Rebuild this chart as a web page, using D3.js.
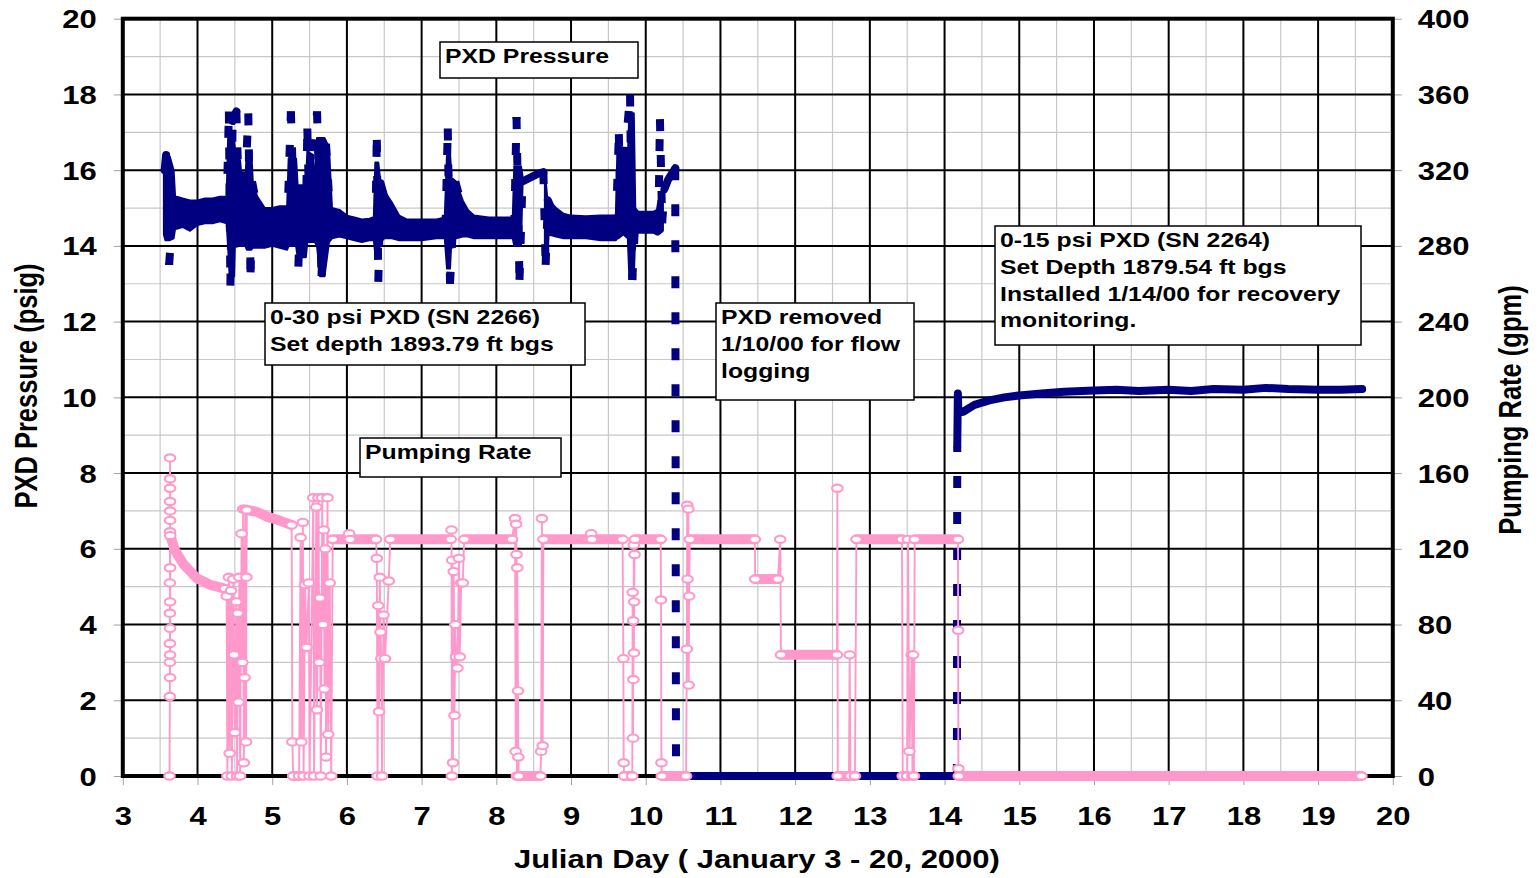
<!DOCTYPE html>
<html>
<head>
<meta charset="utf-8">
<script src="https://cdn.jsdelivr.net/npm/d3@7"></script>
<style>
  html, body { margin: 0; padding: 0; background: #ffffff; }
  svg { display: block; }
</style>
</head>
<body>
<svg id="chart" width="1539" height="878"></svg>
<script>
// ---------------- data ----------------
const dayTicks = d3.range(3, 21);          // Julian day 3 .. 20
const psiTicks = d3.range(0, 21, 2);       // left axis, psig
const gpmTicks = d3.range(0, 401, 40);     // right axis, gpm

// PXD pressure readings (Julian day, psig)
const pressureDay = [3.56,3.58,3.62,3.67,3.8,3.9,4.0,4.1,4.2,4.3,4.39,4.42,4.44,4.47,4.52,4.56,4.62,4.68,4.71,4.73,
  4.8,4.9,5.0,5.1,5.2,5.25,5.3,5.35,5.38,5.45,5.47,5.5,5.6,5.66,5.72,5.78,5.9,6.0,6.1,6.2,
  6.3,6.38,6.4,6.42,6.45,6.5,6.6,6.7,6.8,7.0,7.2,7.32,7.35,7.38,7.45,7.55,7.65,7.8,8.0,8.2,
  8.24,8.27,8.31,8.35,8.45,8.55,8.63,8.66,8.69,8.8,8.9,9.0,9.2,9.4,9.6,9.64,9.66,9.72,9.79,9.82,
  9.86,9.95,10.1,10.17,10.19,10.22,10.25,10.3,10.38,10.395,10.405,14.165,14.17,14.172,14.174,14.176,14.178,14.185,14.25,14.4,
  14.6,14.8,15.0,15.3,15.6,16.0,16.3,16.6,17.0,17.3,17.6,18.0,18.3,18.6,19.0,19.3,19.59];
const pressurePsig = [16.0,16.4,13.5,14.9,14.85,14.8,14.85,14.9,14.92,14.95,14.95,17.55,12.95,17.3,17.55,14.8,14.7,17.5,13.3,15.7,
  15.0,14.5,14.5,14.5,14.45,17.55,14.3,13.45,15.3,14.6,17.1,14.6,17.55,13.2,16.7,14.6,14.6,14.5,14.45,14.4,
  14.45,14.45,16.8,13.05,15.65,15.3,14.9,14.5,14.45,14.45,14.45,14.5,17.1,13.0,15.7,15.0,14.6,14.5,14.5,14.5,
  14.5,17.4,13.1,15.7,15.8,15.9,15.95,13.5,15.2,14.7,14.55,14.5,14.5,14.48,14.5,16.95,15.0,16.3,18.0,13.1,
  14.7,14.65,14.6,14.6,17.35,14.6,15.5,15.75,16.0,16.05,0,0,8.7,9.05,9.4,9.75,10.1,9.6,9.62,9.8,
  9.92,10.0,10.05,10.1,10.15,10.18,10.2,10.17,10.2,10.17,10.22,10.2,10.25,10.22,10.2,10.2,10.22];

// Spread of the logged pressure around its trend (psig); null = no spread recorded
const spreadDay  = [3.55,3.57,3.63,3.68,3.70,3.72,3.8,3.9,4.0,4.1,4.2,4.3,4.39,4.41,4.43,4.49,4.5,4.57,4.6,4.64,
  4.66,4.72,4.74,4.8,4.9,5.0,5.1,5.2,5.22,5.32,5.34,5.45,5.47,5.55,5.57,5.6,5.64,5.7,5.76,5.8,
  5.9,6.0,6.1,6.2,6.3,6.36,6.38,6.42,6.45,6.5,6.6,6.7,6.8,7.0,7.2,7.31,7.34,7.38,7.4,7.46,
  7.55,7.62,7.7,7.9,8.1,8.22,8.24,8.33,8.35,8.5,8.65,8.68,8.7,8.8,8.9,9.0,9.2,9.4,9.6,9.62,
  9.63,9.7,9.76,9.78,9.84,9.86,9.9,10.0,10.1,10.15,10.17,10.2,10.23];
const spreadLow  = [14.3,14.15,14.15,14.2,14.45,14.45,14.5,14.4,14.55,14.6,14.6,14.65,14.6,13.97,13.2,13.2,13.97,14.0,14.0,14.0,
  13.9,13.9,13.95,13.95,13.95,14.0,13.95,13.9,14.0,14.0,13.7,13.7,14.1,14.1,14.1,14.0,13.2,13.2,14.1,14.2,
  14.25,14.2,14.15,14.1,14.15,14.15,13.8,13.8,14.1,14.2,14.2,14.15,14.15,14.15,14.2,14.2,13.4,13.4,14.2,14.2,
  14.25,14.25,14.2,14.2,14.2,14.2,14.0,14.0,15.55,null,13.55,13.55,14.3,14.25,14.2,14.2,14.2,14.15,14.15,14.2,
  14.2,14.3,14.2,13.2,13.2,14.3,14.35,14.35,14.35,14.3,14.3,14.35,14.4];
const spreadHigh = [16.0,16.4,16.35,16.0,15.3,15.3,15.25,15.2,15.2,15.25,15.25,15.3,15.3,16.85,16.85,16.8,16.6,16.25,15.6,15.7,
  16.5,16.5,15.7,15.3,15.0,15.0,15.05,15.05,16.3,16.3,15.6,15.6,16.5,16.4,15.5,16.85,16.85,16.85,16.6,15.0,
  14.95,14.8,14.75,14.7,14.72,14.75,16.2,16.2,15.65,15.45,15.15,14.8,14.7,14.7,14.7,14.75,16.45,16.45,15.8,15.7,
  15.2,14.95,14.8,14.75,14.75,14.75,16.1,16.1,15.85,null,15.95,15.3,15.2,15.0,14.85,14.8,14.78,14.8,14.8,16.5,
  16.5,16.3,16.3,17.5,17.5,15.0,14.9,14.9,14.9,14.95,15.2,15.0,15.4];

// Pumping rate readings (Julian day, gpm); rateDense = 1 where logging runs continuously to the next reading
const rateDay = [3.625,3.63,3.63,3.63,3.63,3.63,3.632,3.632,3.632,3.632,3.633,3.633,3.633,3.633,3.633,3.633,3.633,3.633,3.635,3.70,
  3.81,3.99,4.17,4.37,4.39,4.40,4.42,4.43,4.45,4.46,4.48,4.49,4.50,4.52,4.53,4.54,4.55,4.56,4.57,4.59,
  4.60,4.61,4.62,4.63,4.64,4.65,4.655,4.66,4.79,4.93,5.10,5.26,5.27,5.28,5.36,5.38,5.39,5.41,5.42,5.44,
  5.46,5.49,5.50,5.55,5.56,5.59,5.60,5.62,5.63,5.64,5.65,5.67,5.68,5.69,5.70,5.71,5.72,5.74,5.75,5.77,
  5.79,5.81,6.02,6.03,6.04,6.39,6.40,6.41,6.42,6.43,6.44,6.45,6.46,6.47,6.49,6.51,6.56,6.58,7.39,7.40,
  7.405,7.41,7.42,7.43,7.44,7.45,7.46,7.48,7.50,7.51,7.53,7.55,7.57,8.21,8.25,8.26,8.265,8.27,8.275,8.28,
  8.29,8.295,8.30,8.59,8.60,8.61,8.62,8.63,9.26,9.27,9.28,9.69,9.70,9.705,9.71,9.82,9.825,9.83,9.832,9.835,
  9.84,9.842,9.845,9.85,9.855,10.20,10.205,10.21,10.215,10.54,10.55,10.555,10.56,10.57,10.575,10.58,10.59,11.46,11.465,11.77,
  11.80,11.81,12.56,12.565,12.57,12.72,12.73,12.74,12.80,12.82,13.43,13.44,13.50,13.51,13.53,13.56,13.57,13.58,13.59,13.60,
  14.18,14.182,14.185,14.19,19.58];
const rateGpm = [0,42,60,70,86,102,129,145,157,168,152,140,135,110,92,78,64,52,127,119,
  112,104.5,101,99,95,0,105,12,98,0,104,64,23,92,0,86,39,105,0,128,
  60,141,7,52,141,18,105,140.5,139.6,137,134.9,132.6,18,0,0,126,18,134,0,101,
  68,102,0,147,0,142,35,147,60,94,0,147,80,130,46,120,10,147,22,102,
  0,125,125,128,125,125,115,0,90,34,105,76,62,0,85,62,103,125,125,130,
  0,114,7,108,32,80,63,57,115,63,102,102,125,125,136,13,133,117,0,110,
  45,10,0,0,13,136,16,125,125,128,125,125,62,7,0,0,97,20,82,51,
  122,65,92,117,125,125,93,7,0,0,67,143,104,141,48,95,125,125,104,104,
  125,64,64,152,0,0,64,0,0,125,125,0,0,125,13,64,0,64,0,125,
  125,77,4,0,0];
const rateDense = [0,0,0,0,0,0,0,0,0,0,0,0,0,0,0,0,0,0,1,1,
  1,1,1,0,0,0,0,0,0,0,0,0,0,0,0,0,0,0,0,0,
  0,0,0,0,0,0,0,1,1,1,1,0,0,1,0,0,0,0,0,0,
  0,0,0,0,0,0,0,0,0,0,0,0,0,0,0,0,0,0,0,0,
  0,1,0,0,1,0,0,0,0,0,0,0,0,0,0,0,0,1,0,0,
  0,0,0,0,0,0,0,0,0,0,0,0,1,0,0,0,0,0,0,0,
  0,0,1,0,0,0,0,1,0,0,1,0,0,0,1,0,0,0,0,0,
  0,0,0,0,1,0,0,0,1,0,0,0,0,0,0,0,1,0,1,0,
  0,1,0,0,1,0,0,1,0,1,0,1,0,0,0,0,0,0,0,1,
  0,0,0,1,0];

// Text boxes on the plot
const noteLines = [
  ["PXD Pressure"],
  ["0-30 psi PXD (SN 2266)", "Set depth 1893.79 ft bgs"],
  ["PXD removed", "1/10/00 for flow", "logging"],
  ["0-15 psi PXD (SN 2264)", "Set Depth 1879.54 ft bgs", "Installed 1/14/00 for recovery", "monitoring."],
  ["Pumping Rate"]
];

// ---------------- layout ----------------
const NAVY = "#000080", PINK = "#ff99cc";
const FONT = "'Liberation Sans', Arial, Helvetica, sans-serif";
const S = 1.24;   // horizontal widening of the lettering
const plot = { left: 122.8, right: 1392.8, top: 18.7, bottom: 776 };
const noteBoxes = [
  { x: 440, y: 42,  w: 198, h: 36 },
  { x: 265, y: 303, w: 320, h: 62 },
  { x: 716, y: 303, w: 198, h: 97 },
  { x: 995, y: 226, w: 366, h: 119 },
  { x: 360, y: 438, w: 201, h: 39 }
];

const svg = d3.select("#chart");
const x  = d3.scaleLinear().domain([3, 20]).range([plot.left, plot.right]);
const y  = d3.scaleLinear().domain([0, 20]).range([plot.bottom, plot.top]);
const yR = d3.scaleLinear().domain([0, 400]).range([plot.bottom, plot.top]);

// ---------------- grid ----------------
const grid = svg.append("g");
grid.selectAll("line.vmin").data(d3.range(3.5, 20, 1)).join("line")
  .attr("x1", d => x(d)).attr("x2", d => x(d)).attr("y1", plot.top).attr("y2", plot.bottom)
  .attr("stroke", "#c8c8c8").attr("stroke-width", 1.2);
grid.selectAll("line.hmin").data(d3.range(1, 20, 2)).join("line")
  .attr("y1", d => y(d)).attr("y2", d => y(d)).attr("x1", plot.left).attr("x2", plot.right)
  .attr("stroke", "#c8c8c8").attr("stroke-width", 1.2);
grid.selectAll("line.vmaj").data(dayTicks.slice(1, -1)).join("line")
  .attr("x1", d => x(d)).attr("x2", d => x(d)).attr("y1", plot.top).attr("y2", plot.bottom)
  .attr("stroke", "#000").attr("stroke-width", 2);
grid.selectAll("line.hmaj").data(psiTicks.slice(1, -1)).join("line")
  .attr("y1", d => y(d)).attr("y2", d => y(d)).attr("x1", plot.left).attr("x2", plot.right)
  .attr("stroke", "#000").attr("stroke-width", 2);

// ---------------- axes ----------------
function styleAxis(g, labelX, labelY, anchor) {
  g.select(".domain").remove();
  g.selectAll(".tick line").attr("stroke", "#a0a0a0").attr("stroke-width", 1);
  g.selectAll(".tick text")
    .attr("font-family", FONT).attr("font-weight", "bold").attr("font-size", 25)
    .attr("fill", "#000").attr("text-anchor", anchor)
    .attr("x", labelX / S).attr("y", labelY).attr("dy", null)
    .attr("transform", `scale(${S},1)`);
}
svg.append("g").attr("transform", `translate(${plot.left},0)`)
  .call(d3.axisLeft(y).tickValues(psiTicks).tickSize(9).tickFormat(d3.format("d")))
  .call(g => styleAxis(g, -26, 9, "end"));
svg.append("g").attr("transform", `translate(${plot.right},0)`)
  .call(d3.axisRight(yR).tickValues(gpmTicks).tickSize(9).tickFormat(d3.format("d")))
  .call(g => styleAxis(g, 25, 9, "start"));
svg.append("g").attr("transform", `translate(0,${plot.bottom})`)
  .call(d3.axisBottom(x).tickValues(dayTicks).tickSize(9).tickFormat(d3.format("d")))
  .call(g => styleAxis(g, 0, 49, "middle"));

// frame
svg.append("rect")
  .attr("x", plot.left).attr("y", plot.top)
  .attr("width", plot.right - plot.left).attr("height", plot.bottom - plot.top)
  .attr("fill", "none").attr("stroke", "#000").attr("stroke-width", 4);

// axis titles
function wideText(parent, tx, ty, rot, str, size, weight, anchor) {
  return parent.append("text")
    .attr("transform", `translate(${tx},${ty}) scale(${S},1)` + (rot ? ` rotate(${rot})` : ""))
    .attr("font-family", FONT).attr("font-size", size).attr("font-weight", weight)
    .attr("text-anchor", anchor).attr("fill", "#000").text(str);
}
wideText(svg, 757, 868, 0, "Julian Day ( January 3 - 20, 2000)", 25, "bold", "middle");
wideText(svg, 37, 386, -90, "PXD Pressure (psig)", 25.5, "bold", "middle");
wideText(svg, 1521, 410, -90, "Pumping Rate (gpm)", 25.5, "bold", "middle");

// ---------------- PXD pressure ----------------
const pGroup = svg.append("g");
const spread = spreadDay.map((d, i) => ({ d, lo: spreadLow[i], hi: spreadHigh[i] }));
pGroup.append("path")
  .attr("d", d3.area().defined(p => p.lo != null)
    .x(p => x(p.d)).y0(p => y(p.lo)).y1(p => y(p.hi))(spread))
  .attr("fill", NAVY).attr("stroke", NAVY).attr("stroke-width", 2).attr("stroke-linejoin", "round");

// continuous stretches are solid; steep jumps between readings are dashed, each dash run restarting at a reading
const pPts = pressureDay.map((d, i) => [x(d), y(pressurePsig[i])]);
const solidRuns = [], dashedSegs = [];
let run = [pPts[0]];
for (let i = 0; i < pPts.length - 1; i++) {
  const a = pPts[i], b = pPts[i + 1];
  const dx = b[0] - a[0], dy = b[1] - a[1];
  if (Math.abs(dy) > Math.abs(dx) && Math.hypot(dx, dy) > 24) {
    if (run.length > 1) solidRuns.push(run);
    dashedSegs.push([a, b]);
    run = [b];
  } else {
    run.push(b);
  }
}
if (run.length > 1) solidRuns.push(run);
pGroup.selectAll("path.solid").data(solidRuns).join("path")
  .attr("d", d3.line()).attr("fill", "none").attr("stroke", NAVY)
  .attr("stroke-width", 8).attr("stroke-linejoin", "round").attr("stroke-linecap", "round");
pGroup.selectAll("line.dash").data(dashedSegs).join("line")
  .attr("x1", s => s[0][0]).attr("y1", s => s[0][1]).attr("x2", s => s[1][0]).attr("y2", s => s[1][1])
  .attr("stroke", NAVY).attr("stroke-width", 8).attr("stroke-dasharray", "12,24");

// ---------------- pumping rate ----------------
const rGroup = svg.append("g");
const rPts = rateDay.map((d, i) => [x(d), yR(rateGpm[i])]);
rGroup.append("path").attr("d", d3.line()(rPts))
  .attr("fill", "none").attr("stroke", PINK).attr("stroke-width", 1.9);
const denseRuns = [];
let cur = null;
rPts.forEach((p, i) => {
  if (rateDense[i] && i < rPts.length - 1) {
    if (!cur) cur = [p];
    cur.push(rPts[i + 1]);
  } else if (cur) { denseRuns.push(cur); cur = null; }
});
if (cur) denseRuns.push(cur);
rGroup.selectAll("path.run").data(denseRuns).join("path")
  .attr("d", d3.line()).attr("fill", "none").attr("stroke", PINK)
  .attr("stroke-width", 10).attr("stroke-linejoin", "round").attr("stroke-linecap", "round");
const markerIdx = d3.range(rPts.length).filter(i => !(rateDense[i] && i > 0 && rateDense[i - 1]));
rGroup.selectAll("ellipse").data(markerIdx).join("ellipse")
  .attr("cx", i => rPts[i][0]).attr("cy", i => rPts[i][1])
  .attr("rx", 5.3).attr("ry", 3.6)
  .attr("fill", "#fff").attr("stroke", PINK).attr("stroke-width", 2.1);

// ---------------- text boxes ----------------
const notes = svg.append("g");
noteBoxes.forEach((b, k) => {
  notes.append("rect").attr("x", b.x).attr("y", b.y).attr("width", b.w).attr("height", b.h)
    .attr("fill", "#fff").attr("stroke", "#000").attr("stroke-width", 1.5);
  noteLines[k].forEach((line, j) => {
    wideText(notes, b.x + 5, b.y + 21 + j * 26.8, 0, line, 20, "bold", "start");
  });
});
</script>
</body>
</html>
